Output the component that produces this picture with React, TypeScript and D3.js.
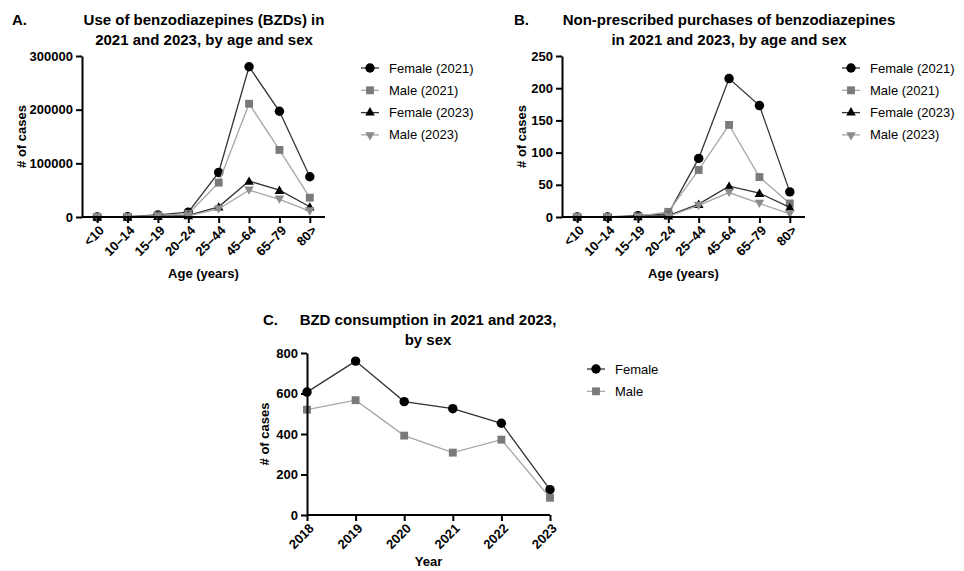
import { useEffect, useRef } from "react";
import * as d3 from "d3";

// categories
const AGE_GROUPS = ["<10", "10–14", "15–19", "20–24", "25–44", "45–64", "65–79", "80>"];
const YEARS = ["2018", "2019", "2020", "2021", "2022", "2023"];

// panel A: use of BZDs
const useFemale2021 = [0, 500, 4000, 9000, 83000, 280000, 197000, 75000];
const useMale2021 = [0, 300, 3000, 6000, 64000, 211000, 125000, 36000];
const useFemale2023 = [0, 200, 1500, 3000, 19000, 67000, 50000, 19000];
const useMale2023 = [0, 100, 1000, 2000, 15000, 50000, 33000, 11000];
const useTicks = [0, 100000, 200000, 300000];

// panel B: non-prescribed purchases
const buyFemale2021 = [0, 0, 2, 5, 91, 215, 173, 39];
const buyMale2021 = [0, 0, 1, 8, 73, 143, 62, 21];
const buyFemale2023 = [0, 0, 1, 2, 20, 48, 37, 15];
const buyMale2023 = [0, 0, 0, 1, 18, 38, 21, 5];
const buyTicks = [0, 50, 100, 150, 200, 250];

// panel C: consumption by year
const consFemale = [607, 760, 560, 525, 453, 125];
const consMale = [520, 567, 392, 308, 372, 85];
const consTicks = [0, 200, 400, 600, 800];

const FONT = "Liberation Sans, Arial, sans-serif";

const styles = {
    f21: { line: "#333", fill: "#000", shape: "circle" },
    m21: { line: "#a6a6a6", fill: "#7a7a7a", shape: "square" },
    f23: { line: "#333", fill: "#000", shape: "triangle" },
    m23: { line: "#a6a6a6", fill: "#8c8c8c", shape: "down" },
};

const symbolPath = (shape) => {
    if (shape === "circle") return d3.symbol(d3.symbolCircle, 70)();
    if (shape === "square") return d3.symbol(d3.symbolSquare, 62)();
    return d3.symbol(d3.symbolTriangle, 40)();
};

function drawPanel(svg, cfg) {
    const g = svg.append("g");
    const x = d3.scalePoint().domain(cfg.cats).range([cfg.x0, cfg.x1]).padding(cfg.pad);
    const y = d3.scaleLinear().domain([0, cfg.max]).range([cfg.y0, cfg.y1]);

    // titles
    g.append("text").attr("x", cfg.labelX).attr("y", cfg.titleY)
        .attr("font-size", 15).attr("font-weight", "bold").text(cfg.letter);
    cfg.title.forEach((t, i) => {
        g.append("text").attr("x", cfg.titleX).attr("y", cfg.titleY + i * 20)
            .attr("text-anchor", "middle").attr("font-size", 15).attr("font-weight", "bold").text(t);
    });

    // series
    cfg.series.forEach((s) => {
        const st = styles[s.style];
        g.append("path").datum(s.values)
            .attr("fill", "none").attr("stroke", st.line).attr("stroke-width", 1.3)
            .attr("d", d3.line().x((_, i) => x(cfg.cats[i])).y((v) => y(v)));
        g.selectAll(null).data(s.values).join("path")
            .attr("d", symbolPath(st.shape))
            .attr("fill", st.fill)
            .attr("transform", (v, i) => `translate(${x(cfg.cats[i])},${y(v) + (st.shape === "triangle" ? 1 : st.shape === "down" ? -1 : 0)})` + (st.shape === "down" ? " rotate(180)" : ""));
    });

    // axes
    const yAxis = g.append("g").attr("transform", `translate(${cfg.x0},0)`)
        .call(d3.axisLeft(y).tickValues(cfg.ticks).tickFormat(d3.format("d")).tickSize(6).tickSizeOuter(0));
    const xAxis = g.append("g").attr("transform", `translate(0,${cfg.y0})`)
        .call(d3.axisBottom(x).tickSize(6).tickSizeOuter(0));
    [xAxis, yAxis].forEach((a) => {
        a.selectAll("path, line").attr("stroke", "#000").attr("stroke-width", 2);
        a.selectAll("text").attr("font-size", 13).attr("font-weight", "bold")
            .attr("font-family", FONT).attr("fill", "#000");
    });
    xAxis.select(".domain").attr("d", `M${cfg.x0},0H${cfg.x1}`);
    xAxis.selectAll(".tick text")
        .attr("text-anchor", "end").attr("x", 0).attr("y", 0).attr("dy", "0.35em")
        .attr("transform", "translate(4,11) rotate(-45)");

    g.append("text").attr("x", (cfg.x0 + cfg.x1) / 2).attr("y", cfg.xLabelY)
        .attr("text-anchor", "middle").attr("font-size", 13).attr("font-weight", "bold").text(cfg.xLabel);
    g.append("text").attr("transform", `translate(${cfg.yLabelX},${(cfg.y0 + cfg.y1) / 2}) rotate(-90)`)
        .attr("text-anchor", "middle").attr("font-size", 13).attr("font-weight", "bold").text("# of cases");

    // legend
    cfg.series.forEach((s, i) => {
        const st = styles[s.style];
        const ly = cfg.legY + i * 22.3;
        g.append("line").attr("x1", cfg.legX - 9).attr("x2", cfg.legX + 9).attr("y1", ly).attr("y2", ly)
            .attr("stroke", st.line).attr("stroke-width", 1.3);
        g.append("path").attr("d", symbolPath(st.shape)).attr("fill", st.fill)
            .attr("transform", `translate(${cfg.legX},${ly})` + (st.shape === "down" ? " rotate(180)" : ""));
        g.append("text").attr("x", cfg.legX + 19).attr("y", ly).attr("dy", "0.35em")
            .attr("font-size", 13).text(s.name);
    });
}

const App = () => {
    const svgRef = useRef(null);

    useEffect(() => {
        const svg = d3.select(svgRef.current);
        svg.selectAll("*").remove();

        drawPanel(svg, {
            letter: "A.", labelX: 12, titleX: 204, titleY: 25,
            title: ["Use of benzodiazepines (BZDs) in", "2021 and 2023, by age and sex"],
            cats: AGE_GROUPS, x0: 82, x1: 325, pad: 0.5, y0: 217, y1: 56, max: 300000, ticks: useTicks,
            xLabel: "Age (years)", xLabelY: 278, yLabelX: 26, legX: 370, legY: 68,
            series: [
                { name: "Female (2021)", values: useFemale2021, style: "f21" },
                { name: "Male (2021)", values: useMale2021, style: "m21" },
                { name: "Female (2023)", values: useFemale2023, style: "f23" },
                { name: "Male (2023)", values: useMale2023, style: "m23" },
            ],
        });

        drawPanel(svg, {
            letter: "B.", labelX: 514, titleX: 729, titleY: 25,
            title: ["Non-prescribed purchases of benzodiazepines", "in 2021 and 2023, by age and sex"],
            cats: AGE_GROUPS, x0: 562, x1: 805, pad: 0.5, y0: 217, y1: 56, max: 250, ticks: buyTicks,
            xLabel: "Age (years)", xLabelY: 278, yLabelX: 526, legX: 851, legY: 68,
            series: [
                { name: "Female (2021)", values: buyFemale2021, style: "f21" },
                { name: "Male (2021)", values: buyMale2021, style: "m21" },
                { name: "Female (2023)", values: buyFemale2023, style: "f23" },
                { name: "Male (2023)", values: buyMale2023, style: "m23" },
            ],
        });

        drawPanel(svg, {
            letter: "C.", labelX: 263, titleX: 428, titleY: 325,
            title: ["BZD consumption in 2021 and 2023,", "by sex"],
            cats: YEARS, x0: 307, x1: 550, pad: 0, y0: 515, y1: 353, max: 800, ticks: consTicks,
            xLabel: "Year", xLabelY: 566, yLabelX: 269, legX: 596, legY: 369,
            series: [
                { name: "Female", values: consFemale, style: "f21" },
                { name: "Male", values: consMale, style: "m21" },
            ],
        });
    }, []);

    return (
        <svg ref={svgRef} width={964} height={571}
            style={{ position: "absolute", left: 0, top: 0, background: "#fff", fontFamily: FONT }} />
    );
};

export default App;
